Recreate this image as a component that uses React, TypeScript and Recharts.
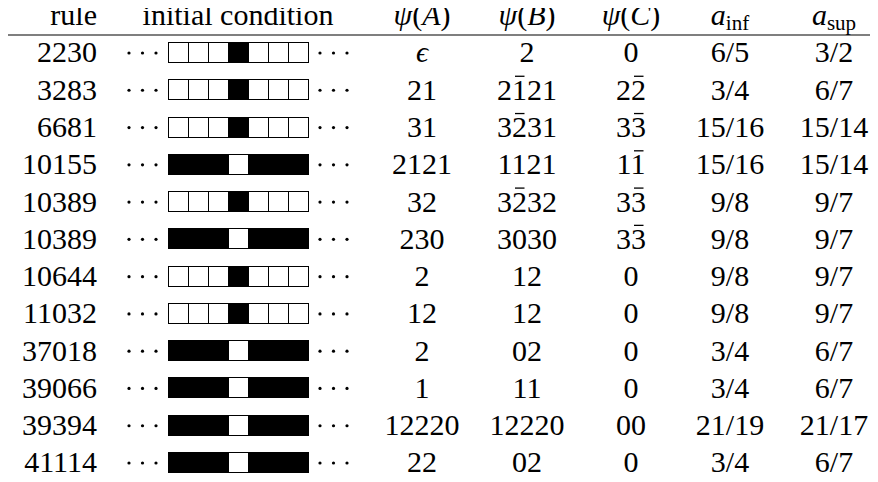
import React from 'react'
import { ScatterChart, Scatter, XAxis, YAxis, ReferenceLine } from 'recharts'

// table rows
const rules = ['2230', '3283', '6681', '10155', '10389', '10389', '10644', '11032', '37018', '39066', '39394', '41114']
// 'b' = black centre cell on white cells, 'w' = white centre cell on black cells
const initial = ['b', 'b', 'b', 'w', 'b', 'w', 'b', 'b', 'w', 'w', 'w', 'w']
const psiA = ['ϵ', '21', '31', '2121', '32', '230', '2', '12', '2', '1', '12220', '22']
// '~' puts a bar over the next digit
const psiB = ['2', '2~121', '3~231', '1121', '3~232', '3030', '12', '12', '02', '11', '12220', '02']
const psiC = ['0', '2~2', '3~3', '1~1', '3~3', '3~3', '0', '0', '0', '0', '00', '0']
const aInf = ['6/5', '3/4', '15/16', '15/16', '9/8', '9/8', '9/8', '9/8', '3/4', '3/4', '21/19', '3/4']
const aSup = ['3/2', '6/7', '15/14', '15/14', '9/7', '9/7', '9/7', '9/7', '6/7', '6/7', '21/17', '6/7']
const headers = ['rule', 'initial condition', 'ψ(A)', 'ψ(B)', 'ψ(C)', 'a_inf', 'a_sup']

// layout
const W = 878
const H = 482
const FONT = 'Liberation Serif'
const FS = 30
const BASE = 10.5
const COL_X = [97, 238, 422, 527, 631, 730, 834]
const Y_DOMAIN: [number, number] = [-1.3951, 11.5366]
const HEADER_ROW = -1
const RULE_LINE = -0.456

const txtStyle = { fontFamily: FONT, fontSize: FS }

function Header({ x, y, label, anchor }: { x: number; y: number; label: string; anchor: string }) {
  let body: React.ReactNode = label
  const psi = label.match(/^ψ\((.)\)$/)
  const sub = label.match(/^(.)_(.+)$/)
  if (psi) {
    body = (
      <>
        <tspan fontStyle="italic">ψ</tspan>(<tspan fontStyle="italic">{psi[1]}</tspan>)
      </>
    )
  } else if (sub) {
    body = (
      <>
        <tspan fontStyle="italic">{sub[1]}</tspan>
        <tspan style={{ fontSize: 21 }} dy={5}>{sub[2]}</tspan>
      </>
    )
  }
  return (
    <text x={x} y={y + BASE} textAnchor={anchor} fontFamily={FONT} style={txtStyle} fill="#000">
      {body}
    </text>
  )
}

function Value({ cx, cy, s, anchor }: { cx: number; cy: number; s: string; anchor: string }) {
  const chars: string[] = []
  const bars: number[] = []
  for (const ch of s) {
    if (ch === '~') bars.push(chars.length)
    else chars.push(ch)
  }
  const dw = FS * 0.5
  const n = chars.length
  const left = anchor === 'end' ? cx - n * dw : cx - (n * dw) / 2
  const txt = chars.join('')
  return (
    <g>
      <text x={cx} y={cy + BASE} textAnchor={anchor} fontFamily={FONT} style={txtStyle} fill="#000">
        {txt === 'ϵ' ? <tspan fontStyle="italic">{txt}</tspan> : txt}
      </text>
      {bars.map((k) => (
        <line key={k} x1={left + k * dw + 3} x2={left + k * dw + 12.5} y1={cy - 13} y2={cy - 13} stroke="#000" strokeWidth={1.3} />
      ))}
    </g>
  )
}

function Strip({ cx, cy, kind }: { cx: number; cy: number; kind: string }) {
  const cw = 20
  const x0 = Math.round(cx - (7 * cw) / 2) + 0.5
  const y0 = Math.round(cy - 10) + 0.5
  return (
    <g>
      {[0, 1, 2, 3, 4, 5, 6].map((i) => {
        const dark = (i === 3) === (kind === 'b')
        return <rect key={i} x={x0 + i * cw} y={y0} width={cw} height={20} fill={dark ? '#000' : '#fff'} stroke="#000" strokeWidth={1} />
      })}
      {[82, 95.5, 109].map((d) => (
        <g key={d}>
          <circle cx={cx - d} cy={cy + 1} r={1.6} fill="#000" />
          <circle cx={cx + d} cy={cy + 1} r={1.6} fill="#000" />
        </g>
      ))}
    </g>
  )
}

const columns = [rules, initial, psiA, psiB, psiC, aInf, aSup]

export default function App() {
  return (
    <div style={{ position: 'relative', width: W, height: H, margin: -8, background: '#fff' }}>
      {/* warm up the serif face so the chart text picks it up */}
      <svg width={1} height={1} style={{ position: 'absolute', left: 0, top: 0, opacity: 0 }}>
        <text x={0} y={1} fontFamily={FONT} fontSize={1}>.<tspan fontStyle="italic">.</tspan></text>
      </svg>
      <ScatterChart width={W} height={H} margin={{ top: 0, right: 0, bottom: 0, left: 0 }}>
        <XAxis type="number" dataKey="x" domain={[0, W]} scale="linear" hide />
        <YAxis type="number" dataKey="y" domain={Y_DOMAIN} scale="linear" reversed hide />
        <ReferenceLine y={RULE_LINE} stroke="#555" strokeWidth={1.6} />
        {columns.map((col, c) => {
          const anchor = c === 0 ? 'end' : 'middle'
          const data = [
            { x: COL_X[c], y: HEADER_ROW, head: headers[c] },
            ...col.map((v, i) => ({ x: COL_X[c], y: i, v })),
          ]
          return (
            <Scatter
              key={c}
              data={data}
              isAnimationActive={false}
              shape={(p: any) => {
                const { cx, cy, payload } = p
                if (payload.head) return <Header x={cx} y={cy} label={payload.head} anchor={anchor} />
                if (c === 1) return <Strip cx={cx} cy={cy} kind={payload.v} />
                return <Value cx={cx} cy={cy} s={payload.v} anchor={anchor} />
              }}
            />
          )
        })}
      </ScatterChart>
    </div>
  )
}
